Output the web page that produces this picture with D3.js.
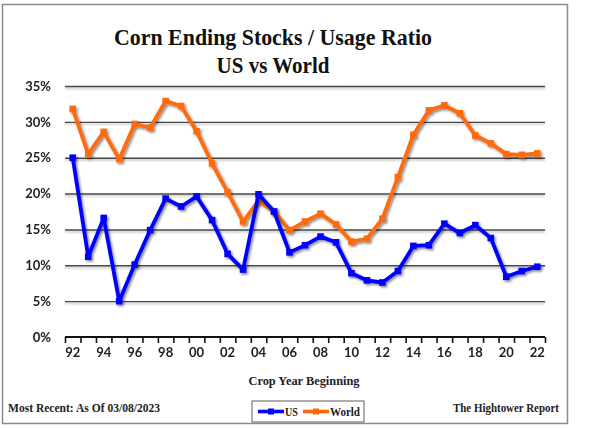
<!DOCTYPE html>
<html>
<head>
<meta charset="utf-8">
<script src="https://cdn.jsdelivr.net/npm/d3@7"></script>
<style>
  html, body { margin: 0; padding: 0; background: #fff; }
  svg { display: block; }
</style>
</head>
<body>
<svg id="chart" width="600" height="428"></svg>
<script>
// ---- data ----
const years = ["92","93","94","95","96","97","98","99","00","01","02","03","04","05","06","07","08","09","10","11","12","13","14","15","16","17","18","19","20","21","22"];
const usValues = [25.0,11.2,16.6,5.0,10.1,14.9,19.3,18.2,19.6,16.3,11.6,9.4,19.9,17.5,11.8,12.8,14.0,13.2,8.9,7.9,7.6,9.2,12.7,12.8,15.8,14.5,15.6,13.8,8.4,9.2,9.8];
const worldValues = [31.8,25.5,28.6,24.8,29.7,29.2,32.9,32.2,28.7,24.2,20.2,16.1,19.0,17.5,14.9,16.1,17.2,15.7,13.3,13.7,16.5,22.3,28.2,31.6,32.3,31.2,28.1,27.0,25.5,25.4,25.6];
const yTicks = [0,5,10,15,20,25,30,35];
const xLabelYears = years.filter((d, i) => i % 2 === 0);
const titleLines = ["Corn Ending Stocks / Usage Ratio", "US vs World"];
const seriesNames = ["US", "World"];
const seriesColors = ["#0000FF", "#FF6A0D"];

(function () {
// ---- layout ----
const svg = d3.select("#chart");
const pL = 65, pR = 545, pT = 86, pB = 337;
const sans = "Lato, 'Open Sans', sans-serif";
const serif = "'Liberation Serif', 'DejaVu Serif', serif";

const defs = svg.append("defs");
const sh = defs.append("filter").attr("id", "shadow").attr("x", "-10%").attr("y", "-10%").attr("width", "120%").attr("height", "130%");
sh.append("feDropShadow").attr("dx", 1.6).attr("dy", 1.8).attr("stdDeviation", 1.0)
  .attr("flood-color", "#000").attr("flood-opacity", 0.45);
const gsh = defs.append("filter").attr("id", "gshadow").attr("x", "-5%").attr("y", "-20%").attr("width", "110%").attr("height", "140%");
gsh.append("feDropShadow").attr("dx", 0).attr("dy", 1.5).attr("stdDeviation", 0.8)
  .attr("flood-color", "#000").attr("flood-opacity", 0.3);

// frame
svg.append("rect").attr("x", 2.5).attr("y", 4.5).attr("width", 565).attr("height", 419)
  .attr("fill", "#fff").attr("stroke", "#8a8a8a").attr("stroke-width", 1.5);

// title
svg.append("text").attr("x", 273).attr("y", 45).attr("text-anchor", "middle")
  .attr("font-family", serif).attr("font-weight", "bold").attr("font-size", 23)
  .attr("textLength", 318).attr("lengthAdjust", "spacingAndGlyphs")
  .attr("fill", "#111").text(titleLines[0]);
svg.append("text").attr("x", 273).attr("y", 73).attr("text-anchor", "middle")
  .attr("font-family", serif).attr("font-weight", "bold").attr("font-size", 23)
  .attr("textLength", 113).attr("lengthAdjust", "spacingAndGlyphs")
  .attr("fill", "#111").text(titleLines[1]);

// scales
const x = d3.scaleBand().domain(years).range([pL, pR]).padding(0);
const xb = d3.scaleLinear().domain([0, years.length]).range([pL, pR]);
const y = d3.scaleLinear().domain([0, 35]).range([pB, pT]);
const cx = d => x(d) + x.bandwidth() / 2;

// gridlines
const grid = svg.append("g").attr("transform", `translate(${pL},0)`)
  .attr("filter", "url(#gshadow)")
  .call(d3.axisLeft(y).tickValues(yTicks.filter(v => v > 0)).tickSize(-(pR - pL)).tickFormat(""));
grid.select(".domain").remove();
grid.selectAll("line").attr("stroke", "#4a4a4a").attr("stroke-width", 1.4);

// y labels
const yAxis = svg.append("g").attr("transform", `translate(${pL},0)`)
  .call(d3.axisLeft(y).tickValues(yTicks).tickSize(0).tickPadding(14).tickFormat(d => d + "%"));
yAxis.select(".domain").remove();
yAxis.selectAll("text").attr("font-family", sans).attr("font-weight", "bold").attr("font-size", 13).attr("fill", "#222");

// x axis ticks at band boundaries
const xTickAxis = svg.append("g").attr("transform", `translate(0,${pB})`)
  .call(d3.axisBottom(xb).tickValues(d3.range(years.length + 1)).tickSize(6).tickFormat(""));
xTickAxis.select(".domain").attr("stroke", "#111").attr("stroke-width", 2.2).attr("d", `M${pL},0H${pR}`);
xTickAxis.selectAll(".tick line").attr("stroke", "#111").attr("stroke-width", 1.6);

// x labels
const xAxis = svg.append("g").attr("transform", `translate(0,${pB})`)
  .call(d3.axisBottom(x).tickValues(xLabelYears).tickSize(0).tickPadding(11));
xAxis.select(".domain").remove();
xAxis.selectAll("text").attr("font-family", sans).attr("font-weight", "bold").attr("font-size", 13).attr("fill", "#222");

// x title
svg.append("text").attr("x", 304).attr("y", 385).attr("text-anchor", "middle")
  .attr("font-family", serif).attr("font-weight", "bold").attr("font-size", 12.5)
  .attr("textLength", 111).attr("lengthAdjust", "spacingAndGlyphs")
  .attr("fill", "#222").text("Crop Year Beginning");

// series
const allSeries = [usValues, worldValues];
const line = d3.line().x((d, i) => cx(years[i])).y(d => y(d)).curve(d3.curveLinear);
[1, 0].forEach(si => {
  const g = svg.append("g").attr("filter", "url(#shadow)");
  g.append("path").datum(allSeries[si]).attr("d", line)
    .attr("fill", "none").attr("stroke", seriesColors[si]).attr("stroke-width", 3.8)
    .attr("stroke-linejoin", "round");
  g.selectAll("rect").data(allSeries[si]).join("rect")
    .attr("x", (d, i) => cx(years[i]) - 3.3).attr("y", d => y(d) - 3.3)
    .attr("width", 6.6).attr("height", 6.6).attr("fill", seriesColors[si]);
});

// footer
svg.append("text").attr("x", 8).attr("y", 411.5)
  .attr("font-family", serif).attr("font-weight", "bold").attr("font-size", 11.5)
  .attr("textLength", 152).attr("lengthAdjust", "spacingAndGlyphs")
  .attr("fill", "#222").text("Most Recent: As Of 03/08/2023");
svg.append("text").attr("x", 559).attr("y", 411.5).attr("text-anchor", "end")
  .attr("font-family", serif).attr("font-weight", "bold").attr("font-size", 11.5)
  .attr("textLength", 106).attr("lengthAdjust", "spacingAndGlyphs")
  .attr("fill", "#222").text("The Hightower Report");

// legend
const lg = svg.append("g");
lg.append("rect").attr("x", 252).attr("y", 401).attr("width", 112).attr("height", 21)
  .attr("fill", "#fff").attr("stroke", "#777").attr("stroke-width", 1.2);
const legendItems = [{x0: 258, tx: 285, w: 13}, {x0: 303, tx: 330, w: 30}];
legendItems.forEach((it, i) => {
  lg.append("line").attr("x1", it.x0).attr("x2", it.x0 + 26).attr("y1", 411.5).attr("y2", 411.5)
    .attr("stroke", seriesColors[i]).attr("stroke-width", 3.6);
  lg.append("rect").attr("x", it.x0 + 10).attr("y", 408.5).attr("width", 6).attr("height", 6).attr("fill", seriesColors[i]);
  lg.append("text").attr("x", it.tx).attr("y", 415.5)
    .attr("font-family", serif).attr("font-weight", "bold").attr("font-size", 11.5)
    .attr("textLength", it.w).attr("lengthAdjust", "spacingAndGlyphs")
    .attr("fill", "#222").text(seriesNames[i]);
});
})();
</script>
</body>
</html>
